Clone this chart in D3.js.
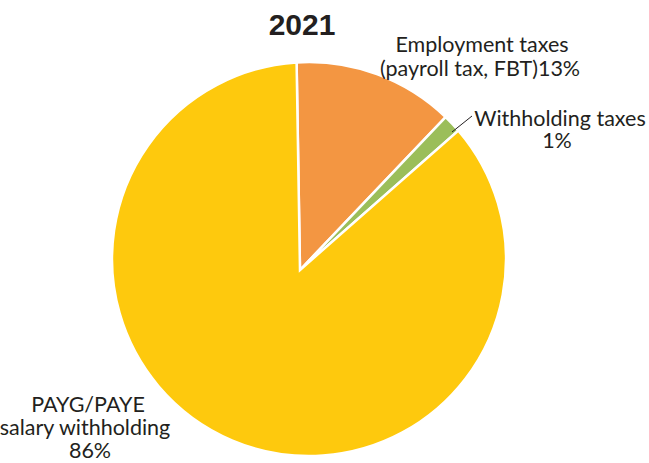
<!DOCTYPE html>
<html>
<head>
<meta charset="utf-8">
<script src="https://cdn.jsdelivr.net/npm/d3@7"></script>
<style>
  body { margin: 0; background: #fff; }
  svg text { font-family: Lato, "Noto Sans", sans-serif; fill: #231f20; }
</style>
</head>
<body>
<svg width="649" height="463"></svg>
<script>
// data
var categories = ["Employment taxes", "Withholding taxes", "PAYG/PAYE salary withholding"];
var shares = [13.2, 1.5, 85.3];
var pctLabels = ["13%", "1%", "86%"];
var colors = ["#f39642", "#9bbe5a", "#fec90d"];
var title = "2021";

var svg = d3.select("svg");

// circle outline and (slightly off-centre) wedge apex, as in the original
var cx = 309, cy = 259, r = 197;
var vx = 300, vy = 270;

var pie = d3.pie().sort(null).value(function(d){ return d; })
    .startAngle(-0.063).endAngle(-0.063 + 2 * Math.PI);
var arcs = pie(shares);

function slicePath(d){
    var p = d3.path();
    p.moveTo(vx, vy);
    p.lineTo(cx + r * Math.sin(d.startAngle), cy - r * Math.cos(d.startAngle));
    p.arc(cx, cy, r, d.startAngle - Math.PI / 2, d.endAngle - Math.PI / 2, false);
    p.closePath();
    return p.toString();
}

svg.append("g").selectAll("path").data(arcs).enter().append("path")
    .attr("d", slicePath)
    .attr("fill", function(d, i){ return colors[i]; })
    .attr("stroke", "#fff").attr("stroke-width", 2.5)
    .attr("stroke-linejoin", "miter");

svg.append("text").attr("x", 302).attr("y", 35).attr("text-anchor", "middle")
    .style("font-family", "'Liberation Sans', Arial, sans-serif")
    .attr("font-weight", "bold").attr("font-size", "30px").text(title);

// labels
var lab = svg.append("g").attr("font-size", "21.5px").attr("text-anchor", "middle");
var t0 = lab.append("text").attr("x", 481).attr("y", 52);
t0.append("tspan").attr("x", 482).text(categories[0]);
t0.append("tspan").attr("x", 480).attr("dy", 24).text("(payroll tax, FBT)" + pctLabels[0]);

var t1 = lab.append("text").attr("x", 560).attr("y", 126);
t1.append("tspan").attr("x", 560).text(categories[1]);
t1.append("tspan").attr("x", 557).attr("dy", 22).text(pctLabels[1]);

var t2 = lab.append("text").attr("x", 88).attr("y", 412);
t2.append("tspan").attr("x", 88).text("PAYG/PAYE");
t2.append("tspan").attr("x", 85).attr("dy", 23).text("salary withholding");
t2.append("tspan").attr("x", 90).attr("dy", 23).text(pctLabels[2]);

// leader line for the small slice
svg.append("line").attr("x1", 452).attr("y1", 132).attr("x2", 472).attr("y2", 116)
    .attr("stroke", "#231f20").attr("stroke-width", 1);
</script>
</body>
</html>
